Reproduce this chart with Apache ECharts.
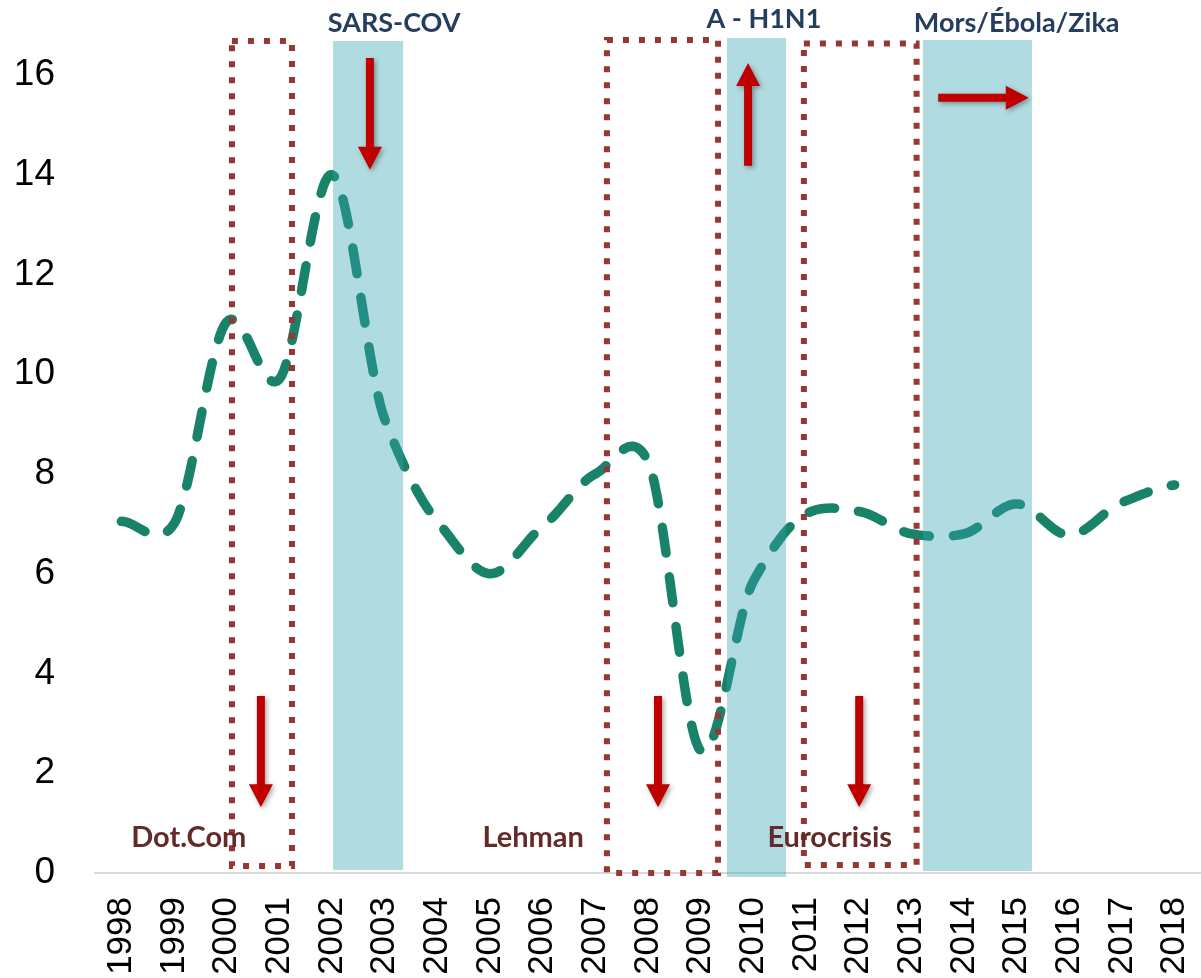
<!DOCTYPE html>
<html>
<head>
<meta charset="utf-8">
<script src="https://cdn.jsdelivr.net/npm/echarts@6/dist/echarts.min.js"></script>
<style>
  html, body { margin: 0; padding: 0; background: #fff; }
  #chart { width: 1201px; height: 978px; }
</style>
</head>
<body>
<div id="chart"></div>
<script>
// yearly values
var years = ['1998','1999','2000','2001','2002','2003','2004','2005','2006','2007','2008',
             '2009','2010','2011','2012','2013','2014','2015','2016','2017','2018'];
var growth = [7.05, 7.0, 11.05, 9.9, 14.0, 9.1, 7.05, 6.0, 6.95, 8.0, 8.25,
              2.45, 5.85, 7.2, 7.25, 6.8, 6.8, 7.4, 6.77, 7.43, 7.78];

// epidemics: [fromYear, toYear, bottom, top]
var outbreakSpans = [
  [2002.02, 2003.35, 0.06, 16.68],
  [2009.50, 2010.62, -0.08, 16.74],
  [2013.22, 2015.29, 0.04, 16.70]
];
var outbreakLabels = ['SARS-COV', 'A - H1N1', 'Mors/Ébola/Zika'];
var outbreakLabelPos = [[2003.18, 17.04], [2010.20, 17.12], [2015.0, 17.04]];

// financial crises: [fromYear, toYear, bottom, top]
var crisisBoxes = [
  [2000.10, 2001.24, 0.14, 16.68],
  [2007.22, 2009.33, 0.0, 16.70],
  [2010.96, 2013.10, 0.16, 16.63]
];
var crisisLabels = ['Dot.Com', 'Lehman', 'Eurocrisis'];
var crisisLabelPos = [[1999.28, 0.70], [2005.82, 0.70], [2011.45, 0.70]];

// arrows: [x0, y0, xTip, yTip]
var arrows = [
  [2000.65, 3.55, 2000.65, 1.32],
  [2002.72, 16.34, 2002.72, 14.10],
  [2008.19, 3.55, 2008.19, 1.32],
  [2009.90, 14.18, 2009.90, 16.24],
  [2012.01, 3.55, 2012.01, 1.32],
  [2013.51, 15.54, 2015.23, 15.54]
];

var chart = echarts.init(document.getElementById('chart'));

function rectItem(api) {
  var a = api.coord([api.value(0), api.value(3)]);
  var b = api.coord([api.value(1), api.value(2)]);
  return { x: a[0], y: a[1], width: b[0] - a[0], height: b[1] - a[1] };
}

// Excel-like smoothed line (cardinal spline), sampled in data space and mapped by the axes
function smoothPoints(api, xs, ys) {
  var pts = [], n = ys.length, steps = 24, k = 0.8;
  for (var i = 0; i < n - 1; i++) {
    var m0 = k * (ys[Math.min(i + 1, n - 1)] - ys[Math.max(i - 1, 0)]) / 2;
    var m1 = k * (ys[Math.min(i + 2, n - 1)] - ys[i]) / 2;
    for (var s = 0; s < steps; s++) {
      var t = s / steps, t2 = t * t, t3 = t2 * t;
      var y = (2 * t3 - 3 * t2 + 1) * ys[i] + (t3 - 2 * t2 + t) * m0 +
              (-2 * t3 + 3 * t2) * ys[i + 1] + (t3 - t2) * m1;
      pts.push(api.coord([xs[i] + t * (xs[i + 1] - xs[i]), y]));
    }
  }
  pts.push(api.coord([xs[n - 1], ys[n - 1]]));
  return pts;
}

var labelFont = 'Lato, "Open Sans", sans-serif';

var option = {
  animation: false,
  grid: { left: 95, right: 0, top: 35, bottom: 105 },
  xAxis: [{
    type: 'category',
    data: years,
    boundaryGap: true,
    axisLine: { lineStyle: { color: '#d9d9d9', width: 2 } },
    axisTick: { show: false },
    axisLabel: {
      interval: 0, rotate: 90, margin: 24,
      fontSize: 35, color: '#000', fontFamily: '"Liberation Sans", Arial, sans-serif'
    },
    splitLine: { show: false }
  }, {
    type: 'value', min: 1997.5, max: 2018.5, show: false
  }],
  yAxis: {
    type: 'value', min: 0, max: 16.8, interval: 2,
    axisLine: { show: false },
    axisTick: { show: false },
    splitLine: { show: false },
    axisLabel: {
      margin: 40, fontSize: 37, color: '#000',
      fontFamily: '"Liberation Sans", Arial, sans-serif',
      formatter: function (v) { return v % 2 === 0 ? v : ''; }
    }
  },
  series: [{
    type: 'custom',
    xAxisIndex: 1,
    clip: false,
    z: 2,
    data: growth.map(function (v, i) { return [Number(years[i]), v]; }),
    renderItem: function (params, api) {
      if (params.dataIndex !== 0) return null;
      var xs = years.map(Number);
      return {
        type: 'polyline',
        shape: { points: smoothPoints(api, xs, growth) },
        style: {
          fill: null, stroke: '#198369', lineWidth: 9.5,
          lineDash: [26, 24], lineCap: 'round', lineJoin: 'round'
        }
      };
    }
  }, {
    type: 'custom',
    xAxisIndex: 1,
    clip: false,
    z: 3,
    data: outbreakSpans,
    encode: { x: [0, 1], y: [2, 3] },
    renderItem: function (params, api) {
      return { type: 'rect', shape: rectItem(api), style: { fill: 'rgba(52,162,175,0.39)' } };
    }
  }, {
    type: 'custom',
    xAxisIndex: 1,
    clip: false,
    z: 4,
    data: crisisBoxes,
    encode: { x: [0, 1], y: [2, 3] },
    renderItem: function (params, api) {
      return {
        type: 'rect', shape: rectItem(api),
        style: { fill: 'none', stroke: '#953735', lineWidth: 6, lineDash: [6, 10] }
      };
    }
  }, {
    type: 'custom',
    xAxisIndex: 1,
    clip: false,
    z: 5,
    data: arrows,
    encode: { x: [0, 2], y: [1, 3] },
    renderItem: function (params, api) {
      var p0 = api.coord([api.value(0), api.value(1)]);
      var p1 = api.coord([api.value(2), api.value(3)]);
      var dx = p1[0] - p0[0], dy = p1[1] - p0[1];
      var len = Math.sqrt(dx * dx + dy * dy);
      var ux = dx / len, uy = dy / len, nx = -uy, ny = ux;
      var sw = 4, hw = 12, hl = 23;
      var bx = p1[0] - ux * hl, by = p1[1] - uy * hl;
      return {
        type: 'polygon',
        shape: { points: [
          [p0[0] + nx * sw, p0[1] + ny * sw],
          [bx + nx * sw, by + ny * sw],
          [bx + nx * hw, by + ny * hw],
          p1,
          [bx - nx * hw, by - ny * hw],
          [bx - nx * sw, by - ny * sw],
          [p0[0] - nx * sw, p0[1] - ny * sw]
        ] },
        style: {
          fill: '#c00000', shadowBlur: 5, shadowColor: 'rgba(0,0,0,0.35)',
          shadowOffsetX: 2, shadowOffsetY: 2
        }
      };
    }
  }, {
    type: 'custom',
    xAxisIndex: 1,
    clip: false,
    z: 6,
    data: outbreakLabelPos,
    renderItem: function (params, api) {
      var p = api.coord([api.value(0), api.value(1)]);
      return {
        type: 'text', x: p[0], y: p[1],
        style: {
          text: outbreakLabels[params.dataIndex], fill: '#253d5e',
          fontSize: 27, fontWeight: 'bold', fontFamily: labelFont,
          align: 'center', verticalAlign: 'middle'
        }
      };
    }
  }, {
    type: 'custom',
    xAxisIndex: 1,
    clip: false,
    z: 6,
    data: crisisLabelPos,
    renderItem: function (params, api) {
      var p = api.coord([api.value(0), api.value(1)]);
      return {
        type: 'text', x: p[0], y: p[1],
        style: {
          text: crisisLabels[params.dataIndex], fill: '#632a28',
          fontSize: 29, fontWeight: 'bold', fontFamily: labelFont,
          align: 'center', verticalAlign: 'middle'
        }
      };
    }
  }]
};

chart.setOption(option);
</script>
</body>
</html>
